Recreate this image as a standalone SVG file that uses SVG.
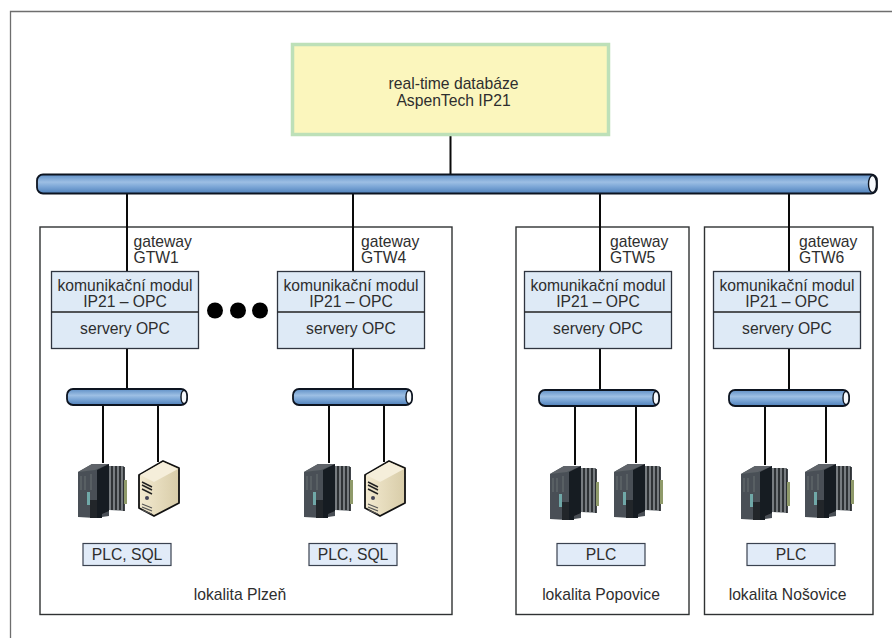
<svg xmlns="http://www.w3.org/2000/svg" width="892" height="638" viewBox="0 0 892 638">
<style>
text{font-family:"Liberation Sans",Arial,sans-serif;font-size:15.7px;fill:#2e2e2e;text-anchor:middle}
.l{text-anchor:start}
.site{fill:none;stroke:#2f3233;stroke-width:1.4}
.mod{fill:#deeaf6;stroke:#2f3540;stroke-width:1.3}
.lab{fill:#e1ebf8;stroke:#3a4250;stroke-width:1.2}
.w{fill:none;stroke:#0a0a0a;stroke-width:2}
.bus{fill:url(#busg);stroke:#0d1420;stroke-width:1.8}
.cap{fill:#f6f9fc;stroke:#0d1420;stroke-width:1.4}
</style>
<defs>
<linearGradient id="busg" x1="0" y1="0" x2="0" y2="1">
<stop offset="0" stop-color="#5f8fc6"/><stop offset=".4" stop-color="#9dbfe4"/><stop offset=".65" stop-color="#7ba6d6"/><stop offset="1" stop-color="#4f80ba"/>
</linearGradient>
<linearGradient id="sg" x1="0" y1="0" x2="1" y2="0"><stop offset="0" stop-color="#f3ead0"/><stop offset="1" stop-color="#d8cca8"/></linearGradient>
<filter id="soft" x="-10%" y="-10%" width="120%" height="120%"><feGaussianBlur stdDeviation="0.5"/></filter>
<g id="plc" filter="url(#soft)">
<path d="M0,8 L14,0 L31,0 L31,52 L17,54 L0,53Z" fill="#4a5056"/>
<path d="M0,8 L14,0 L31,0 L17,6Z" fill="#5e6469"/>
<path d="M19,6 L31,0 V47 L24,50 V54 L19,54Z" fill="#181b20"/>
<path d="M31,2 H46 V47 L31,46Z" fill="#777c80"/>
<path d="M34,2V46M38,2V46M42,2V46M46,3V47" stroke="#22262a" stroke-width="1.700" fill="none"/>
<path d="M46,16H49V40H46Z" fill="#8f9a6a"/>
<rect x="9" y="28" width="3" height="13" fill="#6fa8a8"/>
<rect x="12" y="36" width="7" height="18" fill="#22262a"/>
<path d="M3,12V26M7,12V26M13,10V26" stroke="#666c72" stroke-width="1"/>
</g>
<g id="srv">
<path d="M0,14 L24,0 L40,7 V42 L15,55 L0,47Z" fill="url(#sg)" stroke="#111" stroke-width="1.800" stroke-linejoin="round"/>
<path d="M1,14 L24,1 L39,8 L15,21Z" fill="#f5eeda"/>
<path d="M3,21L13,26M3,24L13,29M3,28L13,33" stroke="#222" stroke-width="1.500"/>
<circle cx="8" cy="37" r="2" fill="#445"/>
<path d="M3,43L13,47M3,46L13,50M3,49L13,53" stroke="#555" stroke-width="1.200"/>
</g>
</defs>
<rect width="892" height="638" fill="#fff"/>
<path d="M10.500,638V11.500H892" fill="none" stroke="#6e6e6e" stroke-width="1.300"/>

<rect class="site" x="40" y="227" width="412" height="387.500"/>
<rect class="site" x="516" y="227" width="173" height="387.500"/>
<rect class="site" x="704.500" y="227" width="168.500" height="387.500"/>

<g id="connectors">
<path class="w" d="M450.500,135V175M127,193V271M353,193V271M600,193V271M789,193V271"/>
<path class="w" d="M127,348V389M353,348V389M600,348V390M789,348V390"/>
<path class="w" d="M103,405V463M158,405V462M329,405V463M384,405V462M575,406V465M636,406V463M765,406V465M826,406V463"/>
</g>

<g id="db">
<rect x="292.500" y="44.500" width="316" height="90" fill="#fbf6bd" stroke="#bde0b8" stroke-width="3.500"/>
<text x="453.500" y="89">real-time databáze</text>
<text x="453.500" y="106">AspenTech IP21</text>
</g>

<g id="mainbus">
<rect class="bus" x="37" y="174.500" width="840" height="19" rx="6"/>
<ellipse class="cap" cx="872.500" cy="184" rx="4" ry="8.500"/>
</g>

<g id="gtw1">
<text class="l" x="133.500" y="246.500">gateway</text><text class="l" x="133.500" y="263">GTW1</text>
<rect class="mod" x="51.500" y="271.500" width="147" height="77"/><path d="M51.500,312H198.500" stroke="#222" stroke-width="1.500"/>
<text x="125" y="290.500">komunikační modul</text><text x="125" y="307">IP21 – OPC</text><text x="125" y="334">servery OPC</text>
</g>
<g id="gtw4">
<text class="l" x="361" y="246.500">gateway</text><text class="l" x="361" y="263">GTW4</text>
<rect class="mod" x="277.500" y="271.500" width="147" height="77"/><path d="M277.500,312H424.500" stroke="#222" stroke-width="1.500"/>
<text x="351" y="290.500">komunikační modul</text><text x="351" y="307">IP21 – OPC</text><text x="351" y="334">servery OPC</text>
</g>
<g id="gtw5">
<text class="l" x="610" y="246.500">gateway</text><text class="l" x="610" y="263">GTW5</text>
<rect class="mod" x="524.500" y="271.500" width="147" height="77"/><path d="M524.500,312H671.500" stroke="#222" stroke-width="1.500"/>
<text x="598" y="290.500">komunikační modul</text><text x="598" y="307">IP21 – OPC</text><text x="598" y="334">servery OPC</text>
</g>
<g id="gtw6">
<text class="l" x="799" y="246.500">gateway</text><text class="l" x="799" y="263">GTW6</text>
<rect class="mod" x="713.500" y="271.500" width="147" height="77"/><path d="M713.500,312H860.500" stroke="#222" stroke-width="1.500"/>
<text x="787" y="290.500">komunikační modul</text><text x="787" y="307">IP21 – OPC</text><text x="787" y="334">servery OPC</text>
</g>

<g id="dots" fill="#000"><circle cx="215" cy="310.500" r="8"/><circle cx="238" cy="310.500" r="8"/><circle cx="260" cy="310.500" r="8"/></g>

<g id="bus1"><rect class="bus" x="67" y="389" width="120" height="16" rx="6"/><ellipse class="cap" cx="184" cy="397" rx="3" ry="6.500"/></g>
<g id="bus4"><rect class="bus" x="293" y="389" width="119" height="16" rx="6"/><ellipse class="cap" cx="409" cy="397" rx="3" ry="6.500"/></g>
<g id="bus5"><rect class="bus" x="539" y="390" width="120" height="16" rx="6"/><ellipse class="cap" cx="656" cy="398" rx="3" ry="6.500"/></g>
<g id="bus6"><rect class="bus" x="729" y="390" width="120" height="16" rx="6"/><ellipse class="cap" cx="846" cy="398" rx="3" ry="6.500"/></g>

<g id="devices1"><use href="#plc" x="78" y="464"/><use href="#srv" x="139" y="461"/></g>
<g id="devices4"><use href="#plc" x="304" y="464"/><use href="#srv" x="365" y="461"/></g>
<g id="devices5"><use href="#plc" x="550" y="466"/><use href="#plc" x="614" y="464"/></g>
<g id="devices6"><use href="#plc" x="741" y="466"/><use href="#plc" x="805" y="464"/></g>

<g id="lab1"><rect class="lab" x="83" y="543.500" width="88" height="22"/><text x="127" y="560">PLC, SQL</text></g>
<g id="lab4"><rect class="lab" x="309" y="543.500" width="88" height="22"/><text x="353" y="560">PLC, SQL</text></g>
<g id="lab5"><rect class="lab" x="557" y="543.500" width="88" height="22"/><text x="601" y="560">PLC</text></g>
<g id="lab6"><rect class="lab" x="747" y="543.500" width="88" height="22"/><text x="791" y="560">PLC</text></g>

<text x="240" y="600">lokalita Plzeň</text>
<text x="601" y="600">lokalita Popovice</text>
<text x="787.500" y="600">lokalita Nošovice</text>
</svg>
